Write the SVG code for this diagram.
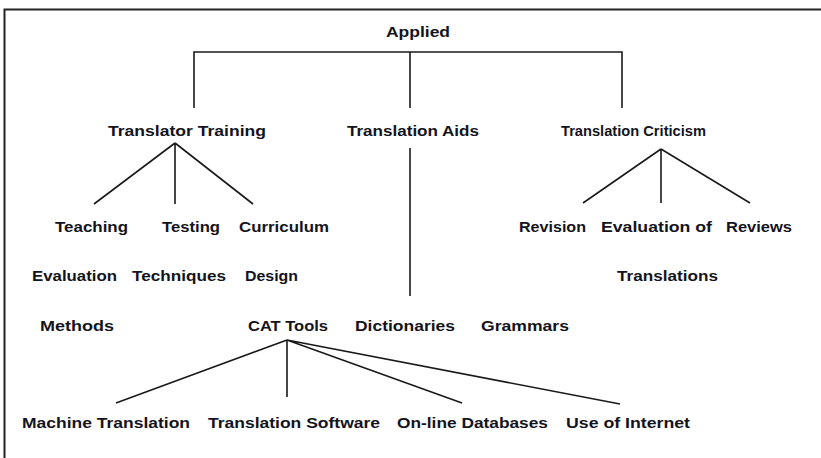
<svg xmlns="http://www.w3.org/2000/svg" width="821" height="458" viewBox="0 0 821 458">
  <style>
    text { font-family: "Liberation Sans", Arial, sans-serif; font-weight: bold; font-size: 15px; fill: #141420; dominant-baseline: central; }
    .edge { stroke: #1a1a1a; stroke-width: 1.6; fill: none; }
  </style>
  <rect x="0" y="0" width="821" height="458" fill="#ffffff"/>
  <!-- outer frame -->
  <path d="M4.5 462 V9.5 H830" stroke="#222" stroke-width="2" fill="none"/>

  <g id="connectors">
    <path class="edge" d="M194 108 V52 H622 V108 M410 52 V108"/>
    <path class="edge" d="M175 143 L94 204 M175 143 V204 M175 143 L253 204"/>
    <line class="edge" x1="410" y1="148" x2="410" y2="296"/>
    <path class="edge" d="M661 149 L583 203 M661 149 V203 M661 149 L750 203"/>
    <path class="edge" d="M287 340 L116 403 M287 340 V397 M287 340 L462 403 M287 340 L620 404"/>
  </g>

  <g id="applied"><text x="386" y="31" textLength="64" lengthAdjust="spacingAndGlyphs">Applied</text></g>
  <g id="translator-training"><text x="108" y="130" textLength="158" lengthAdjust="spacingAndGlyphs">Translator Training</text></g>
  <g id="translation-aids"><text x="347" y="130" textLength="132" lengthAdjust="spacingAndGlyphs">Translation Aids</text></g>
  <g id="translation-criticism"><text x="561" y="130" textLength="145" lengthAdjust="spacingAndGlyphs">Translation Criticism</text></g>

  <g id="teaching-evaluation-methods">
    <text x="55" y="226" textLength="73" lengthAdjust="spacingAndGlyphs">Teaching</text>
    <text x="32" y="275" textLength="85" lengthAdjust="spacingAndGlyphs">Evaluation</text>
    <text x="40" y="325" textLength="74" lengthAdjust="spacingAndGlyphs">Methods</text>
  </g>
  <g id="testing-techniques">
    <text x="162" y="226" textLength="58" lengthAdjust="spacingAndGlyphs">Testing</text>
    <text x="132" y="275" textLength="94" lengthAdjust="spacingAndGlyphs">Techniques</text>
  </g>
  <g id="curriculum-design">
    <text x="239" y="226" textLength="90" lengthAdjust="spacingAndGlyphs">Curriculum</text>
    <text x="245" y="275" textLength="53" lengthAdjust="spacingAndGlyphs">Design</text>
  </g>

  <g id="cat-tools"><text x="248" y="325" textLength="80" lengthAdjust="spacingAndGlyphs">CAT Tools</text></g>
  <g id="dictionaries"><text x="355" y="325" textLength="100" lengthAdjust="spacingAndGlyphs">Dictionaries</text></g>
  <g id="grammars"><text x="481" y="325" textLength="88" lengthAdjust="spacingAndGlyphs">Grammars</text></g>

  <g id="revision"><text x="519" y="226" textLength="67" lengthAdjust="spacingAndGlyphs">Revision</text></g>
  <g id="evaluation-of-translations">
    <text x="601" y="226" textLength="111" lengthAdjust="spacingAndGlyphs">Evaluation of</text>
    <text x="617" y="275" textLength="101" lengthAdjust="spacingAndGlyphs">Translations</text>
  </g>
  <g id="reviews"><text x="726" y="226" textLength="66" lengthAdjust="spacingAndGlyphs">Reviews</text></g>

  <g id="machine-translation"><text x="22" y="422" textLength="168" lengthAdjust="spacingAndGlyphs">Machine Translation</text></g>
  <g id="translation-software"><text x="208" y="422" textLength="172" lengthAdjust="spacingAndGlyphs">Translation Software</text></g>
  <g id="online-databases"><text x="397" y="422" textLength="151" lengthAdjust="spacingAndGlyphs">On-line Databases</text></g>
  <g id="use-of-internet"><text x="566" y="422" textLength="124" lengthAdjust="spacingAndGlyphs">Use of Internet</text></g>
</svg>
